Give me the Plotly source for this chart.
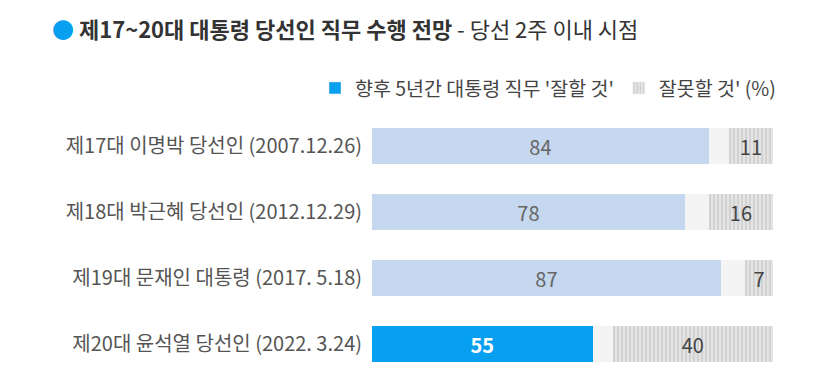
import plotly.graph_objects as go

categories = ["제17대 이명박 당선인 (2007.12.26)", "제18대 박근혜 당선인 (2012.12.29)",
              "제19대 문재인 대통령 (2017. 5.18)", "제20대 윤석열 당선인 (2022. 3.24)"]
good = [84, 78, 87, 55]
bad = [11, 16, 7, 40]
other = [100 - g - b for g, b in zip(good, bad)]

FONT = "Noto Sans CJK KR"
good_colors = ["#c5d8ef", "#c5d8ef", "#c5d8ef", "#079ff0"]
good_text_colors = ["#666666", "#666666", "#666666", "#ffffff"]
good_labels = [str(v) for v in good[:-1]] + ["<b>%d</b>" % good[-1]]
pattern = dict(shape="|", fgcolor="#a8a8a8", bgcolor="#e4e4e4", size=4, solidity=0.3)

fig = go.Figure()
fig.add_trace(go.Bar(y=categories, x=good, orientation="h", marker=dict(color=good_colors, line_width=0),
                     text=good_labels, textposition="inside", insidetextanchor="middle",
                     textfont=dict(family=FONT, size=20, color=good_text_colors),
                     showlegend=False, hoverinfo="x"))
fig.add_trace(go.Bar(y=categories, x=other, orientation="h", marker=dict(color="#f4f4f4", line_width=0),
                     showlegend=False, hoverinfo="skip"))
fig.add_trace(go.Bar(y=categories, x=bad, orientation="h", marker=dict(color="#e4e4e4", pattern=pattern, line_width=0),
                     text=[str(v) for v in bad], textposition="inside", insidetextanchor="middle",
                     textfont=dict(family=FONT, size=20, color="#444444"),
                     showlegend=False, hoverinfo="x"))
# legend-only entries
fig.add_trace(go.Bar(y=[None], x=[None], orientation="h", marker=dict(color="#079ff0"),
                     name="향후 5년간 대통령 직무 '잘할 것'"))
fig.add_trace(go.Bar(y=[None], x=[None], orientation="h", marker=dict(color="#e8e8e8", pattern=pattern),
                     name="잘못할 것' (%)"))

fig.update_layout(
    width=833, height=378, barmode="stack", bargap=0.45,
    margin=dict(l=364, r=68, t=105, b=9),
    plot_bgcolor="white", paper_bgcolor="white",
    font=dict(family=FONT, color="#444444"),
    xaxis=dict(range=[0, 100], visible=False, fixedrange=True),
    yaxis=dict(autorange="reversed", showgrid=False, showline=False, ticks="", ticklabelstandoff=9,
               tickfont=dict(family=FONT, size=20, color="#555555")),
    legend=dict(orientation="h", x=1.02, xanchor="right", y=1.02, yanchor="bottom", yref="paper",
                font=dict(family=FONT, size=19.5, color="#444444"), traceorder="normal",
                itemwidth=30, entrywidthmode="pixels", bgcolor="rgba(0,0,0,0)"),
    annotations=[
        dict(xref="paper", yref="paper", x=-0.803, y=1.0, yshift=85, xanchor="left", yanchor="middle",
             showarrow=False, align="left",
             text="<span style='color:#079ff0'>●</span> <b>제17~20대 대통령 당선인 직무 수행 전망</b> - 당선 2주 이내 시점",
             font=dict(family=FONT, size=22, color="#333333")),
    ],
)
fig.write_html("out.html")
